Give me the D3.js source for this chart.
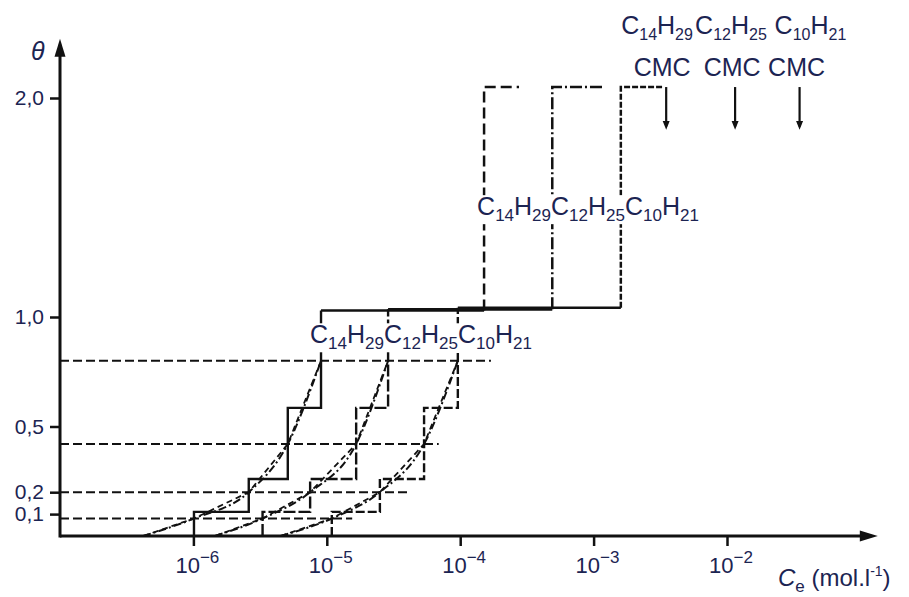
<!DOCTYPE html>
<html lang="fr">
<head>
<meta charset="UTF-8">
<title>Adsorption isotherms of alkyl surfactants</title>
<script src="https://d3js.org/d3.v7.min.js"></script>
<style>
  body { margin: 0; background: #fff; }
  svg { display: block; font-family: "Liberation Sans", Arial, sans-serif; }
  text { fill: #1c2452; }
  .ax line { stroke: #111; stroke-width: 2.5px; }
</style>
</head>
<body>
<svg id="chart" width="909" height="597"></svg>
<script>
// --- data ---
const chains = [ {c: "14", h: "29"}, {c: "12", h: "25"}, {c: "10", h: "21"} ];

// theta levels of the dashed guide lines and where each one stops (mol/l)
const levels    = [0.08, 0.2, 0.42, 0.8];
const levelEnds = [1.55e-5, 4.0e-5, 6.9e-5, 1.7e-4];

// isotherm points: concentration at theta = 0, 0.08, 0.2, 0.42, 0.8
const curveTheta = [0, 0.08, 0.2, 0.42, 0.8];
const curveC14 = [4.2e-7, 1.01e-6, 2.6e-6, 5.1e-6, 9.05e-6];
const curveC12 = [1.45e-6, 3.3e-6, 7.5e-6, 1.66e-5, 2.88e-5];
const curveC10 = [4.5e-6, 1.09e-5, 2.5e-5, 5.36e-5, 9.6e-5];
const curves = [curveC14, curveC12, curveC10];

// staircase step heights
const steps = [0.11, 0.26, 0.585];
// monolayer plateau, bilayer jump concentration, bilayer level and its end
const plateau  = [1.03, 1.035, 1.042];
const jumpConc = [1.51e-4, 4.9e-4, 1.6e-3];
const topTheta = 2.05;
const topEnd   = [2.76e-4, 1.16e-3, 3.26e-3];
// critical micelle concentrations
const cmc = [3.5e-3, 1.15e-2, 3.5e-2];

const xTicks = [1e-6, 1e-5, 1e-4, 1e-3, 1e-2];
const yTicks = [0.1, 0.2, 0.5, 1, 2];

// line styles per chain
const stairDash = ["none", "12,3", "9,3"];
const highDash  = ["11,5", "12,3,2,3", "6,2"];

// --- scales ---
const svg = d3.select("#chart");
const x = d3.scaleLog().domain([1e-7, 1e-2]).range([60, 727]);
const y = d3.scaleLinear().domain([0, 2]).range([536, 98]);
const xMax = 0.135, yMax = 2.27;

const ink = "#111";

// --- axes ---
svg.append("g").attr("class", "ax")
  .attr("transform", `translate(0,${y(0)})`)
  .call(d3.axisBottom(x).tickValues(xTicks).tickSize(10).tickFormat(""))
  .call(g => g.select(".domain").remove());

const yAx = svg.append("g").attr("class", "ax")
  .attr("transform", `translate(${x(1e-7)},0)`)
  .call(d3.axisLeft(y).tickValues(yTicks).tickSize(10).tickPadding(6)
    .tickFormat(d => d3.format(".1f")(d).replace(".", ",")))
  .call(g => g.select(".domain").remove());
yAx.selectAll("text").attr("font-size", 21).attr("fill", "#1c2452")
  .attr("font-family", "'Liberation Sans', Arial, sans-serif");

svg.append("line").attr("x1", x(1e-7)).attr("x2", x(xMax) - 14)
  .attr("y1", y(0)).attr("y2", y(0)).attr("stroke", ink).attr("stroke-width", 3);
svg.append("line").attr("x1", x(1e-7)).attr("x2", x(1e-7))
  .attr("y1", y(0) + 1.5).attr("y2", y(yMax) + 14).attr("stroke", ink).attr("stroke-width", 3);
svg.append("path")
  .attr("d", `M${x(xMax)},${y(0)} L${x(xMax) - 18},${y(0) - 5.5} L${x(xMax) - 18},${y(0) + 5.5} Z`)
  .attr("fill", ink);
svg.append("path")
  .attr("d", `M${x(1e-7)},${y(yMax)} L${x(1e-7) - 5.5},${y(yMax) + 18} L${x(1e-7) + 5.5},${y(yMax) + 18} Z`)
  .attr("fill", ink);

// x tick labels 10^n
xTicks.forEach(v => {
  const t = svg.append("text").attr("x", x(v) - 18).attr("y", y(0) + 37).attr("font-size", 22);
  t.append("tspan").text("10");
  t.append("tspan").attr("font-size", 17).attr("dy", -10).text("\u2212" + Math.round(-Math.log10(v)));
});

// axis titles
svg.append("text").attr("x", 31).attr("y", 60).attr("font-size", 25)
  .attr("font-style", "italic").text("\u03b8");
const xt = svg.append("text").attr("x", 778).attr("y", 586).attr("font-size", 24);
xt.append("tspan").attr("font-style", "italic").text("C");
xt.append("tspan").attr("font-size", 17).attr("dy", 6).text("e");
xt.append("tspan").attr("dy", -6).text(" (mol.l");
xt.append("tspan").attr("font-size", 14).attr("dy", -10).text("-1");
xt.append("tspan").attr("dy", 10).text(")");

// --- dashed theta guides ---
svg.append("g").selectAll("line").data(levels).join("line")
  .attr("x1", x(1e-7)).attr("x2", (d, i) => x(levelEnds[i]))
  .attr("y1", d => y(d)).attr("y2", d => y(d))
  .attr("stroke", ink).attr("stroke-width", 2).attr("stroke-dasharray", "9,4");

// --- isotherms: smooth dash-dot and straight dashed ---
const line = d3.line().x(d => x(d[0])).y(d => y(d[1]));
curves.forEach(cs => {
  const pts = cs.map((c, i) => [c, curveTheta[i]]);
  svg.append("path").attr("d", line.curve(d3.curveMonotoneX)(pts))
    .attr("fill", "none").attr("stroke", ink).attr("stroke-width", 2)
    .attr("stroke-dasharray", "8,3,2,3");
  svg.append("path").attr("d", line.curve(d3.curveLinear)(pts))
    .attr("fill", "none").attr("stroke", ink).attr("stroke-width", 1.8)
    .attr("stroke-dasharray", "6,4");
});

// --- staircases, plateau and bilayer jump ---
curves.forEach((cs, i) => {
  const stair = [
    [cs[1], 0], [cs[1], steps[0]], [cs[2], steps[0]], [cs[2], steps[1]],
    [cs[3], steps[1]], [cs[3], steps[2]], [cs[4], steps[2]], [cs[4], plateau[i]]
  ];
  svg.append("path").attr("d", line.curve(d3.curveLinear)(stair))
    .attr("fill", "none").attr("stroke", ink).attr("stroke-width", 2.4)
    .attr("stroke-dasharray", stairDash[i]);
  svg.append("path").attr("d", line([[cs[4], plateau[i]], [jumpConc[i], plateau[i]]]))
    .attr("fill", "none").attr("stroke", ink).attr("stroke-width", 2.6);
  svg.append("path")
    .attr("d", line([[jumpConc[i], plateau[i]], [jumpConc[i], topTheta], [topEnd[i], topTheta]]))
    .attr("fill", "none").attr("stroke", ink).attr("stroke-width", 2.5)
    .attr("stroke-dasharray", highDash[i]);
});

// --- CMC arrows ---
cmc.forEach(c => {
  svg.append("line").attr("x1", x(c)).attr("x2", x(c))
    .attr("y1", y(topTheta)).attr("y2", y(1.87))
    .attr("stroke", ink).attr("stroke-width", 2.2);
  svg.append("path")
    .attr("d", `M${x(c)},${y(1.855)} L${x(c) - 3.5},${y(1.895)} L${x(c) + 3.5},${y(1.895)} Z`)
    .attr("fill", ink);
});

// --- formula labels ---
function formulaRow(px, py, list, masked) {
  const t = svg.append("text").attr("x", px).attr("y", py).attr("font-size", 25);
  list.forEach((ch, k) => {
    t.append("tspan").attr("dy", k === 0 ? 0 : -6).text("C");
    t.append("tspan").attr("font-size", 17).attr("dy", 6).text(ch.c);
    t.append("tspan").attr("dy", -6).text("H");
    t.append("tspan").attr("font-size", 17).attr("dy", 6).text(ch.h);
  });
  if (masked) {
    const b = t.node().getBBox();
    svg.insert("rect", () => t.node())
      .attr("x", b.x - 1).attr("y", b.y + 3).attr("width", b.width + 2).attr("height", b.height - 4)
      .attr("fill", "#fff");
  }
  return t;
}
formulaRow(x(curveC14[4]) - 11, y(0.88), chains, true);
formulaRow(x(jumpConc[0]) - 7, y(1.465), chains, true);

// top row with CMC
const topShift = [-45, -40, -25];
chains.forEach((ch, i) => {
  const t = svg.append("text").attr("x", x(cmc[i]) + topShift[i]).attr("y", y(2.29))
    .attr("font-size", 25);
  t.append("tspan").text("C");
  t.append("tspan").attr("font-size", 16).attr("dy", 6).text(ch.c);
  t.append("tspan").attr("dy", -6).text("H");
  t.append("tspan").attr("font-size", 16).attr("dy", 6).text(ch.h);
  svg.append("text").attr("x", x(cmc[i]) - (i === 0 ? 4 : 3)).attr("y", y(2.1))
    .attr("font-size", 25).attr("text-anchor", "middle").text("CMC");
});
</script>
</body>
</html>
